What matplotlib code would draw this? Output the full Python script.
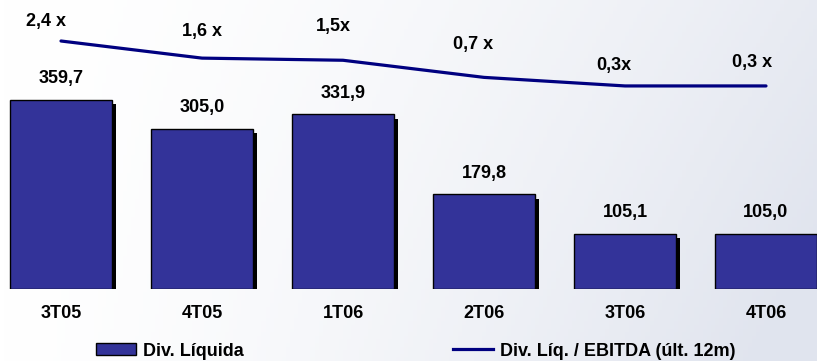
import numpy as np
import matplotlib
matplotlib.use("Agg")
import matplotlib.pyplot as plt
from matplotlib import patheffects as pe
from matplotlib.patches import Patch
from matplotlib.lines import Line2D

plt.rcParams['font.family'] = ['Liberation Sans', 'DejaVu Sans']
plt.rcParams['font.weight'] = 'bold'

categories = ["3T05", "4T05", "1T06", "2T06", "3T06", "4T06"]
div_liquida = [359.7, 305.0, 331.9, 179.8, 105.1, 105.0]
div_labels = ["359,7", "305,0", "331,9", "179,8", "105,1", "105,0"]
ratio = [2.4, 1.6, 1.5, 0.7, 0.3, 0.3]
ratio_labels = ["2,4 x", "1,6 x", "1,5x", "0,7 x", "0,3x", "0,3 x"]

# label offsets (style): (dx pts, dy pts) relative to line points
ratio_offsets = [(-11, 14), (0, 19), (-7, 24), (-8, 24), (-8, 15), (-10, 17)]

FS = 13
W, H = 817, 361
fig = plt.figure(figsize=(W / 100, H / 100), dpi=100)

# background gradient
bg = fig.add_axes([0, 0, 1, 1], zorder=-10)
xx, yy = np.meshgrid(np.linspace(0, 1, 200), np.linspace(0, 1, 100))
t = np.clip(0.75 * xx ** 1.6 + 0.35 * yy * xx, 0, 1)
c0 = np.array([1.0, 1.0, 1.0])
c1 = np.array([224, 228, 238]) / 255
img = c0[None, None, :] * (1 - t[..., None]) + c1[None, None, :] * t[..., None]
bg.imshow(img, aspect='auto', extent=[0, 1, 0, 1], origin='upper')
bg.axis('off')

ax_bottom_px = H - 289
ax = fig.add_axes([0, ax_bottom_px / H, 1, 1 - ax_bottom_px / H])
ax.patch.set_alpha(0)
x = np.arange(len(categories))
ax.set_xlim(-61 / 141, (W - 61) / 141)
ax.set_ylim(0, 289 / 0.526)
bars = ax.bar(x, div_liquida, width=0.72, color='#333399', edgecolor='black',
              linewidth=1.0, zorder=3)
for b in bars:
    b.set_path_effects([pe.SimplePatchShadow(offset=(3.3, -3.3), shadow_rgbFace='black', alpha=1.0),
                        pe.Normal()])
for xi, v, lab in zip(x, div_liquida, div_labels):
    ax.annotate(lab, (xi, v), xytext=(0, 15), textcoords='offset points',
                ha='center', va='center', fontsize=FS, fontweight='bold')
ax.axis('off')

ax2 = ax.twinx()
ax2.set_xlim(ax.get_xlim())
ax2.set_ylim(2.4 - 248 / 21.4, 2.4 + 41 / 21.4)
ax2.plot(x, ratio, color='#000080', linewidth=2.3, solid_joinstyle='round',
         solid_capstyle='round', zorder=4)
for xi, v, lab, off in zip(x, ratio, ratio_labels, ratio_offsets):
    ax2.annotate(lab, (xi, v), xytext=off, textcoords='offset points',
                 ha='center', va='center', fontsize=FS, fontweight='bold')
ax2.axis('off')

# category labels
for xi, c in zip(x, categories):
    ax.annotate(c, (xi, 0), xytext=(0, -18), textcoords='offset points',
                ha='center', va='center', fontsize=FS, fontweight='bold',
                annotation_clip=False)

handles = [Patch(facecolor='#333399', edgecolor='black', linewidth=1.0),
           Line2D([], [], color='#000080', linewidth=2.3)]
leg = fig.legend(handles, ["Div. Líquida", "Div. Líq. / EBITDA (últ. 12m)"],
                 loc='center left', bbox_to_anchor=(96 / W, 1 - 351 / H), ncol=2,
                 frameon=False, fontsize=FS, handlelength=2.2, handleheight=0.6,
                 handletextpad=0.4, columnspacing=11.6, borderpad=0, borderaxespad=0)
for txt in leg.get_texts():
    txt.set_fontweight('bold')

fig.savefig("out.png", dpi=100)
